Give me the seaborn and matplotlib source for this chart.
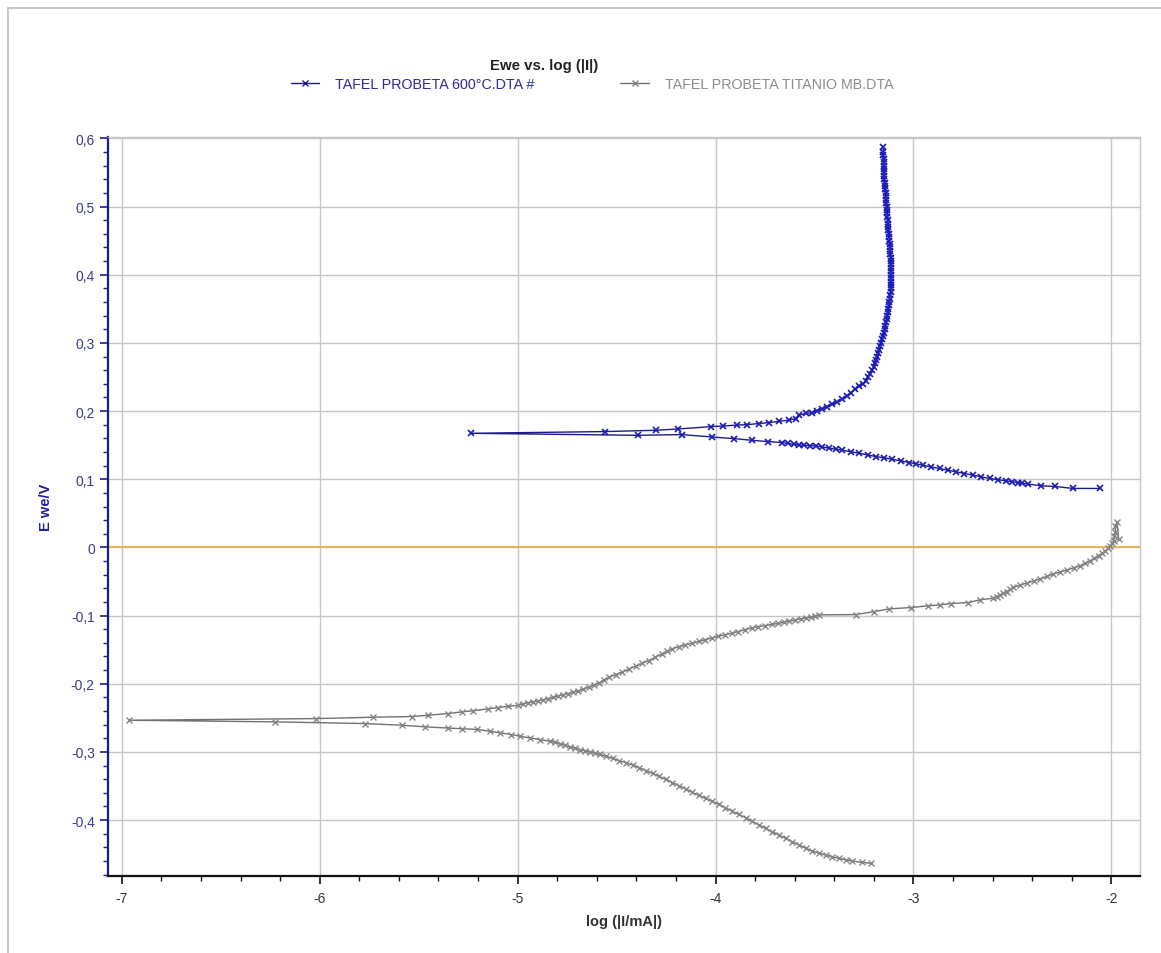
import matplotlib
matplotlib.use("Agg")
import matplotlib.pyplot as plt
from matplotlib.lines import Line2D
from matplotlib.ticker import MultipleLocator, FuncFormatter
import seaborn as sns
import pandas as pd

# ---------------- data ----------------
blue_label = "TAFEL PROBETA 600°C.DTA #"
grey_label = "TAFEL PROBETA TITANIO MB.DTA"

# 600 °C specimen, in scan order: cathodic branch (right to left), Ecorr, anodic branch
blue_x = [-2.058, -2.193, -2.286, -2.354, -2.421, -2.450, -2.472, -2.500, -2.531, -2.573,
          -2.615, -2.658, -2.700, -2.742, -2.784, -2.826, -2.868, -2.910, -2.953, -2.987,
          -3.020, -3.063, -3.106, -3.148, -3.190, -3.232, -3.274, -3.316, -3.359, -3.392,
          -3.426, -3.460, -3.494, -3.524, -3.553, -3.578, -3.604, -3.634, -3.664, -3.734,
          -3.815, -3.907, -4.020, -4.171, -4.394, -5.234,
          -4.561, -4.302, -4.189, -4.022, -3.963, -3.891, -3.840, -3.781, -3.730, -3.679,
          -3.628, -3.594, -3.578, -3.545, -3.511, -3.486, -3.460, -3.435, -3.409, -3.384,
          -3.359, -3.338, -3.316, -3.295, -3.274, -3.257, -3.240, -3.232,
          -3.220, -3.208, -3.201, -3.195, -3.189, -3.183, -3.177, -3.172, -3.168, -3.164,
          -3.159, -3.155, -3.150, -3.146, -3.142, -3.138, -3.134, -3.131, -3.128, -3.126,
          -3.123, -3.121, -3.119, -3.117, -3.115, -3.114, -3.113, -3.113, -3.113, -3.113,
          -3.113, -3.114, -3.114, -3.114, -3.115, -3.116, -3.117, -3.119, -3.120, -3.121,
          -3.123, -3.124, -3.126, -3.127, -3.128, -3.130, -3.131, -3.133, -3.134, -3.135,
          -3.137, -3.138, -3.140, -3.141, -3.143, -3.144, -3.146, -3.147, -3.148, -3.149,
          -3.150, -3.150, -3.151, -3.151, -3.152, -3.152, -3.153]
blue_y = [0.0865, 0.0865, 0.0894, 0.0903, 0.0928, 0.0940, 0.0952, 0.0964, 0.0976, 0.0993,
          0.1011, 0.1036, 0.1060, 0.1084, 0.1108, 0.1133, 0.1158, 0.1182, 0.1206, 0.1225,
          0.1245, 0.1269, 0.1293, 0.1313, 0.1333, 0.1357, 0.1381, 0.1403, 0.1425, 0.1440,
          0.1454, 0.1471, 0.1488, 0.1493, 0.1498, 0.1505, 0.1513, 0.1525, 0.1538, 0.1552,
          0.1571, 0.1596, 0.1620, 0.1655, 0.1644, 0.1674,
          0.1699, 0.1718, 0.1737, 0.1772, 0.1780, 0.1795, 0.1801, 0.1816, 0.1830, 0.1849,
          0.1868, 0.1889, 0.1940, 0.1965, 0.1977, 0.2006, 0.2035, 0.2066, 0.2098, 0.2134,
          0.2171, 0.2220, 0.2269, 0.2317, 0.2365, 0.2402, 0.2439, 0.2500,
          0.255, 0.260, 0.265, 0.270, 0.275, 0.280, 0.285, 0.290, 0.295, 0.300,
          0.305, 0.310, 0.315, 0.320, 0.325, 0.330, 0.335, 0.340, 0.345, 0.350,
          0.355, 0.360, 0.365, 0.370, 0.375, 0.380, 0.385, 0.390, 0.395, 0.400,
          0.405, 0.410, 0.415, 0.420, 0.425, 0.430, 0.435, 0.440, 0.445, 0.450,
          0.455, 0.460, 0.465, 0.470, 0.475, 0.480, 0.485, 0.490, 0.495, 0.500,
          0.505, 0.510, 0.515, 0.520, 0.525, 0.530, 0.535, 0.540, 0.545, 0.550,
          0.555, 0.560, 0.565, 0.570, 0.575, 0.580, 0.587]

# Titanium base material, in scan order
grey_x = [-3.215, -3.262, -3.308, -3.342, -3.376, -3.410, -3.443, -3.477, -3.511, -3.545,
          -3.578, -3.612, -3.646, -3.680, -3.713, -3.747, -3.781, -3.815, -3.848, -3.882,
          -3.916, -3.950, -3.983, -4.017, -4.050, -4.084, -4.117, -4.150, -4.184, -4.218,
          -4.251, -4.285, -4.318, -4.352, -4.385, -4.418, -4.452, -4.486, -4.519, -4.552,
          -4.586, -4.611, -4.636, -4.662, -4.687, -4.712, -4.737, -4.762, -4.787, -4.812,
          -4.837, -4.888, -4.938, -4.988, -5.032, -5.090, -5.139, -5.206, -5.282, -5.350,
          -5.468, -5.586, -5.772, -6.228, -6.963,
          -6.017, -5.730, -5.535, -5.451, -5.350, -5.283, -5.225, -5.152, -5.099, -5.049,
          -4.998, -4.973, -4.948, -4.923, -4.898, -4.873, -4.848, -4.822, -4.797, -4.772,
          -4.747, -4.722, -4.697, -4.668, -4.638, -4.613, -4.588, -4.563, -4.538, -4.505,
          -4.471, -4.438, -4.404, -4.370, -4.337, -4.304, -4.270, -4.245, -4.220, -4.186,
          -4.152, -4.118, -4.085, -4.052, -4.018, -3.985, -3.952, -3.918, -3.884, -3.850,
          -3.817, -3.783, -3.750, -3.717, -3.683, -3.656, -3.629, -3.600, -3.570, -3.545,
          -3.519, -3.498, -3.477, -3.291, -3.198, -3.122, -3.012, -2.927, -2.868, -2.809,
          -2.724, -2.665, -2.597, -2.580, -2.563, -2.546, -2.529, -2.512, -2.495, -2.461,
          -2.427, -2.393, -2.360, -2.326, -2.293, -2.259, -2.225, -2.191, -2.157, -2.132,
          -2.107, -2.085, -2.064, -2.047, -2.030, -2.017, -2.005, -1.996, -1.988, -1.984,
          -1.980, -1.980, -1.971, -1.963]
grey_y = [-0.4634, -0.4620, -0.4600, -0.4582, -0.4561, -0.4538, -0.4512, -0.4485, -0.4454, -0.4412,
          -0.4366, -0.4318, -0.4268, -0.4220, -0.4170, -0.4122, -0.4072, -0.4018, -0.3965, -0.3917,
          -0.3868, -0.3820, -0.3770, -0.3725, -0.3682, -0.3638, -0.3594, -0.3545, -0.3496, -0.3450,
          -0.3403, -0.3360, -0.3316, -0.3274, -0.3232, -0.3195, -0.3159, -0.3128, -0.3096, -0.3066,
          -0.3037, -0.3018, -0.2998, -0.2982, -0.2965, -0.2945, -0.2925, -0.2900, -0.2877, -0.2860,
          -0.2843, -0.2818, -0.2793, -0.2770, -0.2745, -0.2720, -0.2696, -0.2670, -0.2660, -0.2650,
          -0.2632, -0.2608, -0.2584, -0.2559, -0.2535,
          -0.2511, -0.2491, -0.2481, -0.2462, -0.2437, -0.2413, -0.2395, -0.2370, -0.2350, -0.2331,
          -0.2317, -0.2297, -0.2277, -0.2265, -0.2253, -0.2236, -0.2219, -0.2200, -0.2180, -0.2163,
          -0.2146, -0.2127, -0.2107, -0.2078, -0.2048, -0.2017, -0.1985, -0.1944, -0.1902, -0.1866,
          -0.1829, -0.1785, -0.1741, -0.1700, -0.1659, -0.1610, -0.1560, -0.1524, -0.1487, -0.1458,
          -0.1429, -0.1405, -0.1380, -0.1353, -0.1326, -0.1304, -0.1282, -0.1258, -0.1234, -0.1207,
          -0.1180, -0.1163, -0.1146, -0.1130, -0.1115, -0.1098, -0.1082, -0.1065, -0.1048, -0.1035,
          -0.1023, -0.1006, -0.0990, -0.0985, -0.0941, -0.0902, -0.0882, -0.0857, -0.0843, -0.0823,
          -0.0809, -0.0770, -0.0745, -0.0721, -0.0697, -0.0673, -0.0649, -0.0617, -0.0585, -0.0553,
          -0.0522, -0.0492, -0.0463, -0.0426, -0.0390, -0.0361, -0.0332, -0.0300, -0.0269, -0.0232,
          -0.0196, -0.0160, -0.0123, -0.0086, -0.0050, -0.0013, 0.0023, 0.0060, 0.0096, 0.0160,
          0.0219, 0.0317, 0.0366, 0.0122]

x_ticks = [-7, -6, -5, -4, -3, -2]
y_ticks = [-0.4, -0.3, -0.2, -0.1, 0.0, 0.1, 0.2, 0.3, 0.4, 0.5, 0.6]

# ---------------- styling ----------------
sns.set_theme(style="white")
plt.rcParams["font.family"] = ["Liberation Sans", "DejaVu Sans"]
plt.rcParams["axes.unicode_minus"] = False

NAVY = "#1c1c86"
BLUE_MK = "#1a1ab8"
GREY_LN = "#707070"
GREY_MK = "#858585"

W, H = 1161, 954
fig = plt.figure(figsize=(W / 100, H / 100), dpi=100)
ax = fig.add_axes([108 / W, 1 - 877 / H, (1140 - 108) / W, (877 - 138) / H])

df_b = pd.DataFrame({"x": blue_x, "y": blue_y})
df_g = pd.DataFrame({"x": grey_x, "y": grey_y})

sns.lineplot(data=df_g, x="x", y="y", sort=False, estimator=None, ax=ax,
             color=GREY_LN, linewidth=1.0, marker="x", markersize=5,
             markeredgewidth=1.0, markeredgecolor=GREY_MK, zorder=3)
sns.lineplot(data=df_b, x="x", y="y", sort=False, estimator=None, ax=ax,
             color=NAVY, linewidth=1.0, marker="x", markersize=5,
             markeredgewidth=1.2, markeredgecolor=BLUE_MK, zorder=4)

ax.axhline(0, color="#f0b048", linewidth=1.3, zorder=2)

ax.set_xlim(-7.07, -1.855)
ax.set_ylim(-0.482, 0.602)

ax.set_xticks(x_ticks)
ax.set_yticks(y_ticks)
ax.xaxis.set_minor_locator(MultipleLocator(0.2))
ax.yaxis.set_minor_locator(MultipleLocator(0.02))


def yfmt(v, pos):
    if abs(v) < 1e-9:
        return "0"
    return f"{v:.1f}".replace(".", ",")


ax.yaxis.set_major_formatter(FuncFormatter(yfmt))
ax.xaxis.set_major_formatter(FuncFormatter(lambda v, p: f"{int(round(v))}"))

ax.grid(True, which="major", color="#c6c6c6", linewidth=1.0)
ax.set_axisbelow(True)

for s in ["top", "right"]:
    ax.spines[s].set_color("#c6c6c6")
    ax.spines[s].set_linewidth(1.0)
ax.spines["left"].set_color(NAVY)
ax.spines["left"].set_linewidth(1.6)
ax.spines["bottom"].set_color("#111111")
ax.spines["bottom"].set_linewidth(1.6)

ax.tick_params(axis="y", which="major", direction="out", length=6, width=1.2,
               color=NAVY, labelcolor="#3a3a8c", labelsize=10, left=True)
ax.tick_params(axis="y", which="minor", direction="out", length=3.5, width=1.0,
               color=NAVY, left=True)
ax.tick_params(axis="x", which="major", direction="out", length=6, width=1.2,
               color="#111111", labelcolor="#333333", labelsize=10, bottom=True, pad=5)
ax.tick_params(axis="x", which="minor", direction="out", length=3.5, width=1.0,
               color="#111111", bottom=True)

ax.set_xlabel("log (|I/mA|)", fontsize=10.5, fontweight="bold", color="#333333", labelpad=6)
ax.set_ylabel("E we/V", fontsize=10.5, fontweight="bold", color="#1f1f99", labelpad=13)

# title and legend
fig.text(544 / W, 1 - 66 / H, "Ewe vs. log (|I|)", ha="center", va="center",
         fontsize=10.8, fontweight="bold", color="#222222")

handles = [
    Line2D([], [], color=NAVY, linewidth=1.0, marker="x", markersize=5,
           markeredgecolor=NAVY, markeredgewidth=1.0),
    Line2D([], [], color=GREY_LN, linewidth=1.0, marker="x", markersize=5,
           markeredgecolor=GREY_MK, markeredgewidth=1.0),
]
fig.legend(handles, [blue_label, grey_label], loc="center",
           bbox_to_anchor=(592 / W, 1 - 85 / H), ncol=2, frameon=False,
           fontsize=10.3, handlelength=2.0, handletextpad=1.1, columnspacing=6.0,
           labelcolor=["#2a2aa0", "#8c8c8c"])

# outer frame lines
fig.add_artist(Line2D([8 / W, 8 / W], [0, 1 - 9 / H], transform=fig.transFigure,
                      color="#c8c8c8", linewidth=1.5))
fig.add_artist(Line2D([8 / W, 1], [1 - 9 / H, 1 - 9 / H], transform=fig.transFigure,
                      color="#c8c8c8", linewidth=1.5))

fig.savefig("out.png", dpi=100)
